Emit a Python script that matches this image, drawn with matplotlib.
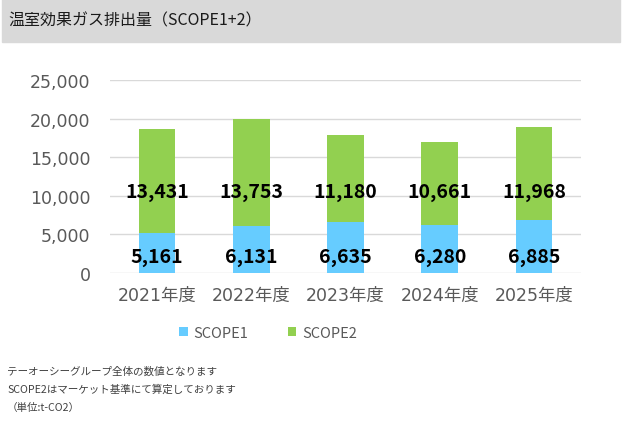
import matplotlib.pyplot as plt
from matplotlib.patches import Rectangle
import numpy as np

plt.rcParams['font.family'] = ['Noto Sans CJK JP', 'DejaVu Sans']

years = ["2021年度", "2022年度", "2023年度", "2024年度", "2025年度"]
scope1 = [5161, 6131, 6635, 6280, 6885]
scope2 = [13431, 13753, 11180, 10661, 11968]
yticks = [0, 5000, 10000, 15000, 20000, 25000]
title = "温室効果ガス排出量（SCOPE1+2）"
notes = ["テーオーシーグループ全体の数値となります",
         "SCOPE2はマーケット基準にて算定しております",
         "（単位:t-CO2）"]

c1 = "#66CCFF"
c2 = "#92D050"
gray = "#595959"
tick_family = ['DejaVu Sans', 'Noto Sans CJK JP']

fig = plt.figure(figsize=(6.22, 4.35), dpi=100)

# title band
fig.patches.append(Rectangle((2 / 622, 1 - 43 / 435), 618 / 622, 43 / 435,
                             transform=fig.transFigure, color="#D9D9D9", zorder=0))
fig.text(8 / 622, 1 - 21 / 435, title, fontsize=11.5, color="#1a1a1a",
         va="center", ha="left")

ax = fig.add_axes([110 / 622, 1 - 274 / 435, 471 / 622, 193 / 435])
x = np.arange(len(years))
ax.bar(x, scope1, width=0.39, color=c1, zorder=2, label="SCOPE1")
ax.bar(x, scope2, width=0.39, bottom=scope1, color=c2, zorder=2, label="SCOPE2")

for i in range(len(years)):
    ax.text(x[i], 2200, f"{scope1[i]:,}", ha="center", va="center",
            fontsize=14, fontweight="bold", color="black", zorder=3)
    ax.text(x[i], 10500, f"{scope2[i]:,}", ha="center", va="center",
            fontsize=14, fontweight="bold", color="black", zorder=3)

ax.set_xlim(-0.5, len(years) - 0.5)
ax.set_ylim(0, 25000)
ax.set_yticks(yticks)
ax.set_yticklabels([f"{v:,}" for v in yticks], family=tick_family)
ax.set_xticks(x)
ax.set_xticklabels(years, family=tick_family)
ax.tick_params(axis="both", length=0, labelsize=12.5, labelcolor=gray)
ax.tick_params(axis="y", pad=14)
ax.tick_params(axis="x", pad=9)
ax.yaxis.grid(True, color="#D9D9D9", linewidth=1, zorder=0)
for s in ax.spines.values():
    s.set_visible(False)

leg = fig.legend(loc="center", bbox_to_anchor=(268 / 622, 1 - 334 / 435), ncol=2,
                 frameon=False, fontsize=10.5, handlelength=0.6, handleheight=0.6,
                 columnspacing=2.7, handletextpad=0.4)
for t in leg.get_texts():
    t.set_color(gray)

for j, line in enumerate(notes):
    fig.text(7 / 622, 1 - (372 + 18 * j) / 435, line, fontsize=7.6,
             color="#404040", va="center", ha="left")

fig.savefig("out.png", dpi=100)
